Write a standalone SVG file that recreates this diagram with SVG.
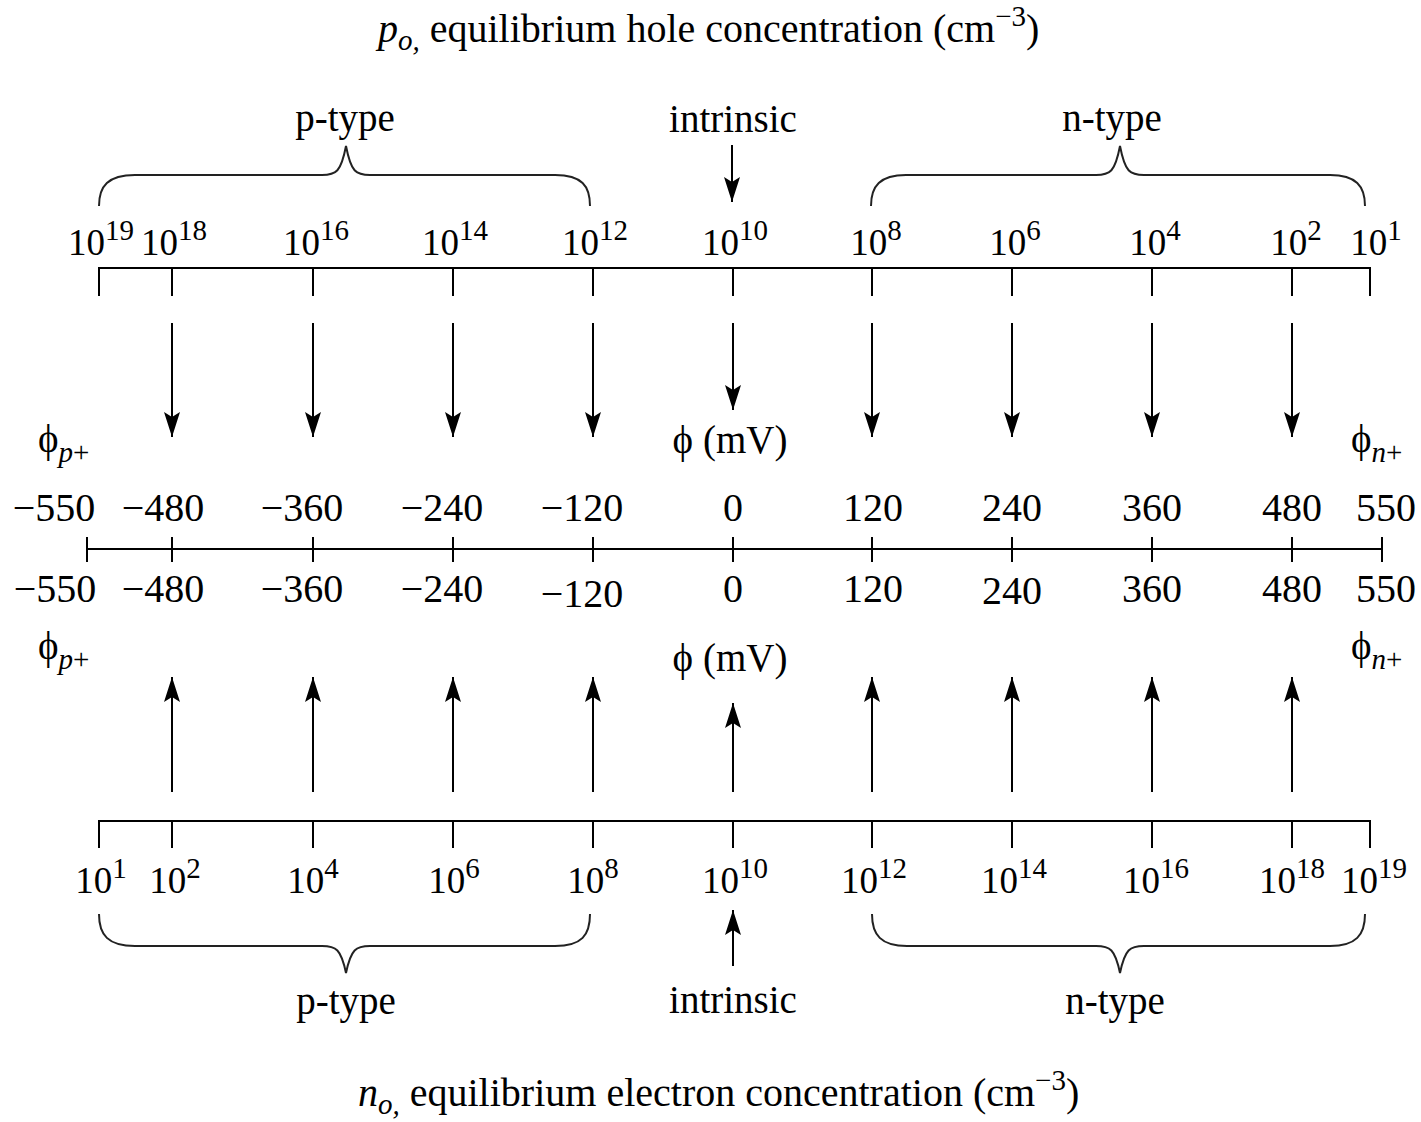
<svg xmlns="http://www.w3.org/2000/svg" width="1421" height="1122" viewBox="0 0 1421 1122">
<defs>
<style>
text{font-family:"Liberation Serif","Times New Roman",serif;fill:#000}
.t{font-size:40px}
.lab{font-size:39px;text-anchor:middle}
.pw{font-size:37px;text-anchor:middle}
.num{font-size:40px;text-anchor:middle}
.phi{font-size:39px}
.sup{font-size:29px}
.sub{font-size:29px;font-style:italic}
.ax{stroke:#000;stroke-width:2;fill:none}
.br{stroke:#222;stroke-width:2;fill:none}
.ar{stroke:#000;stroke-width:2;fill:none;marker-end:url(#ah)}
</style>
<marker id="ah" viewBox="-26 -9 27 18" refX="0" refY="0" markerWidth="27" markerHeight="18" markerUnits="userSpaceOnUse" orient="auto">
<path d="M0,0 L-25,-8 L-20,0 L-25,8 Z" fill="#000"/>
</marker>
</defs>
<rect width="1421" height="1122" fill="#fff"/>

<g id="title-top"><text class="t" x="378" y="42"><tspan font-style="italic">p</tspan><tspan font-style="italic" font-size="29" dy="8">o,</tspan><tspan dy="-8"> equilibrium hole concentration (cm</tspan><tspan class="sup" dy="-16">−3</tspan><tspan dy="16">)</tspan></text></g>

<g id="top-ptype"><text class="lab" x="345" y="131">p-type</text><path class="br" d="M99,206 C99,186 108,175 135,175 L322,175 C336,175 341,172 346,146 C351,172 356,175 370,175 L555,175 C582,175 590,186 590,206"/></g>
<g id="top-intrinsic"><text class="lab" x="733" y="132">intrinsic</text></g>
<g id="top-ntype"><text class="lab" x="1112" y="131">n-type</text><path class="br" d="M871,206 C871,186 880,175 906,175 L1096,175 C1110,175 1115,172 1120,146 C1125,172 1130,175 1144,175 L1330,175 C1356,175 1365,186 1365,206"/></g>

<g id="axis-top">
<path class="ax" d="M99,296 V268 H1370 V296 M172,268 V296 M313,268 V296 M453,268 V296 M593,268 V296 M733,268 V296 M872,268 V296 M1012,268 V296 M1152,268 V296 M1292,268 V296"/>
<text class="pw" x="101" y="255">10<tspan class="sup" dy="-15">19</tspan></text>
<text class="pw" x="174" y="255">10<tspan class="sup" dy="-15">18</tspan></text>
<text class="pw" x="316" y="255">10<tspan class="sup" dy="-15">16</tspan></text>
<text class="pw" x="455" y="255">10<tspan class="sup" dy="-15">14</tspan></text>
<text class="pw" x="595" y="255">10<tspan class="sup" dy="-15">12</tspan></text>
<text class="pw" x="735" y="255">10<tspan class="sup" dy="-15">10</tspan></text>
<text class="pw" x="876" y="255">10<tspan class="sup" dy="-15">8</tspan></text>
<text class="pw" x="1015" y="255">10<tspan class="sup" dy="-15">6</tspan></text>
<text class="pw" x="1155" y="255">10<tspan class="sup" dy="-15">4</tspan></text>
<text class="pw" x="1296" y="255">10<tspan class="sup" dy="-15">2</tspan></text>
<text class="pw" x="1376" y="255">10<tspan class="sup" dy="-15">1</tspan></text>
</g>

<g id="phi-labels-upper">
<text class="phi" x="38" y="452">ϕ<tspan class="sub" dy="10">p</tspan><tspan font-size="29" font-style="normal">+</tspan></text>
<text class="phi" x="1351" y="452">ϕ<tspan class="sub" dy="10">n</tspan><tspan font-size="29" font-style="normal">+</tspan></text>
<text class="phi" x="730" y="453" text-anchor="middle">ϕ (mV)</text>
</g>

<g id="axis-phi">
<path class="ax" d="M87,549 H1382 M87,537 V562 M1382,537 V562 M172,537 V562 M313,537 V562 M453,537 V562 M593,537 V562 M733,537 V562 M872,537 V562 M1012,537 V562 M1152,537 V562 M1292,537 V562"/>
<text class="num" x="54" y="521">−550</text>
<text class="num" x="163" y="521">−480</text>
<text class="num" x="302" y="521">−360</text>
<text class="num" x="442" y="521">−240</text>
<text class="num" x="582" y="521">−120</text>
<text class="num" x="733" y="521">0</text>
<text class="num" x="873" y="521">120</text>
<text class="num" x="1012" y="521">240</text>
<text class="num" x="1152" y="521">360</text>
<text class="num" x="1292" y="521">480</text>
<text class="num" x="1386" y="521">550</text>
<text class="num" x="55" y="602">−550</text>
<text class="num" x="163" y="602">−480</text>
<text class="num" x="302" y="602">−360</text>
<text class="num" x="442" y="602">−240</text>
<text class="num" x="582" y="607">−120</text>
<text class="num" x="733" y="602">0</text>
<text class="num" x="873" y="602">120</text>
<text class="num" x="1012" y="604">240</text>
<text class="num" x="1152" y="602">360</text>
<text class="num" x="1292" y="602">480</text>
<text class="num" x="1386" y="602">550</text>
</g>

<g id="phi-labels-lower">
<text class="phi" x="38" y="659">ϕ<tspan class="sub" dy="10">p</tspan><tspan font-size="29" font-style="normal">+</tspan></text>
<text class="phi" x="1351" y="659">ϕ<tspan class="sub" dy="10">n</tspan><tspan font-size="29" font-style="normal">+</tspan></text>
<text class="phi" x="730" y="671" text-anchor="middle">ϕ (mV)</text>
</g>

<g id="axis-bottom">
<path class="ax" d="M99,848 V821 H1370 V848 M172,821 V848 M313,821 V848 M453,821 V848 M593,821 V848 M733,821 V848 M872,821 V848 M1012,821 V848 M1152,821 V848 M1292,821 V848"/>
<text class="pw" x="101" y="893">10<tspan class="sup" dy="-15">1</tspan></text>
<text class="pw" x="175" y="893">10<tspan class="sup" dy="-15">2</tspan></text>
<text class="pw" x="313" y="893">10<tspan class="sup" dy="-15">4</tspan></text>
<text class="pw" x="454" y="893">10<tspan class="sup" dy="-15">6</tspan></text>
<text class="pw" x="593" y="893">10<tspan class="sup" dy="-15">8</tspan></text>
<text class="pw" x="735" y="893">10<tspan class="sup" dy="-15">10</tspan></text>
<text class="pw" x="874" y="893">10<tspan class="sup" dy="-15">12</tspan></text>
<text class="pw" x="1014" y="893">10<tspan class="sup" dy="-15">14</tspan></text>
<text class="pw" x="1156" y="893">10<tspan class="sup" dy="-15">16</tspan></text>
<text class="pw" x="1292" y="893">10<tspan class="sup" dy="-15">18</tspan></text>
<text class="pw" x="1374" y="893">10<tspan class="sup" dy="-15">19</tspan></text>
</g>

<g id="bottom-ptype"><path class="br" d="M99,914 C99,935 108,946 135,946 L322,946 C336,946 341,949 346,973 C351,949 356,946 370,946 L555,946 C582,946 590,935 590,914"/><text class="lab" x="346" y="1014">p-type</text></g>
<g id="bottom-intrinsic"><text class="lab" x="733" y="1013">intrinsic</text></g>
<g id="bottom-ntype"><path class="br" d="M872,914 C872,935 881,946 907,946 L1096,946 C1110,946 1115,949 1120,973 C1125,949 1130,946 1144,946 L1330,946 C1356,946 1365,935 1365,914"/><text class="lab" x="1115" y="1014">n-type</text></g>

<g id="title-bottom"><text class="t" x="358" y="1106"><tspan font-style="italic">n</tspan><tspan font-style="italic" font-size="29" dy="8">o,</tspan><tspan dy="-8"> equilibrium electron concentration (cm</tspan><tspan class="sup" dy="-16">−3</tspan><tspan dy="16">)</tspan></text></g>

<g id="connectors">
<path class="ar" d="M732,145 V202"/>
<path class="ar" d="M172,323 V437"/>
<path class="ar" d="M313,323 V437"/>
<path class="ar" d="M453,323 V437"/>
<path class="ar" d="M593,323 V437"/>
<path class="ar" d="M733,323 V410"/>
<path class="ar" d="M872,323 V437"/>
<path class="ar" d="M1012,323 V437"/>
<path class="ar" d="M1152,323 V437"/>
<path class="ar" d="M1292,323 V437"/>
<path class="ar" d="M172,792 V677"/>
<path class="ar" d="M313,792 V677"/>
<path class="ar" d="M453,792 V677"/>
<path class="ar" d="M593,792 V677"/>
<path class="ar" d="M733,792 V703"/>
<path class="ar" d="M872,792 V677"/>
<path class="ar" d="M1012,792 V677"/>
<path class="ar" d="M1152,792 V677"/>
<path class="ar" d="M1292,792 V677"/>
<path class="ar" d="M733,966 V910"/>
</g>
</svg>
